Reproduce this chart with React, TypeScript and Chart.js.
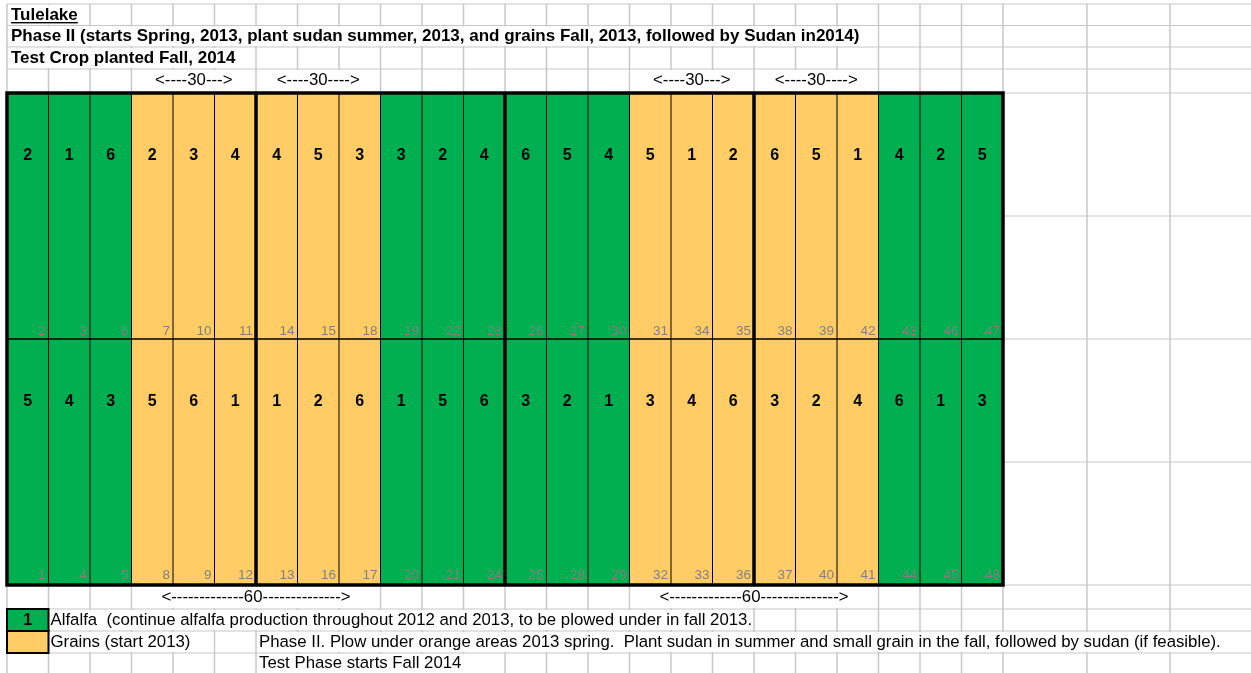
import React, { useEffect, useRef } from "react";
import { Chart, registerables } from "chart.js";

Chart.register(...registerables);

// ---- data ----
const columns = ["1", "2", "3", "4", "5", "6", "7", "8", "9", "10", "11", "12", "13", "14", "15", "16", "17", "18", "19", "20", "21", "22", "23", "24"];
const cropType = ["A", "A", "A", "G", "G", "G", "G", "G", "G", "A", "A", "A", "A", "A", "A", "G", "G", "G", "G", "G", "G", "A", "A", "A"];
const upperTreatment = [2, 1, 6, 2, 3, 4, 4, 5, 3, 3, 2, 4, 6, 5, 4, 5, 1, 2, 6, 5, 1, 4, 2, 5];
const lowerTreatment = [5, 4, 3, 5, 6, 1, 1, 2, 6, 1, 5, 6, 3, 2, 1, 3, 4, 6, 3, 2, 4, 6, 1, 3];
const upperPlot = [2, 3, 6, 7, 10, 11, 14, 15, 18, 19, 22, 23, 26, 27, 30, 31, 34, 35, 38, 39, 42, 43, 46, 47];
const lowerPlot = [1, 4, 5, 8, 9, 12, 13, 16, 17, 20, 21, 24, 25, 28, 29, 32, 33, 36, 37, 40, 41, 44, 45, 48];
const lowerBlock = [1, 1, 1, 1, 1, 1, 1, 1, 1, 1, 1, 1, 1, 1, 1, 1, 1, 1, 1, 1, 1, 1, 1, 1];
const upperBlock = [1, 1, 1, 1, 1, 1, 1, 1, 1, 1, 1, 1, 1, 1, 1, 1, 1, 1, 1, 1, 1, 1, 1, 1];
const groupBoundaries = [6, 12, 18];
const spanLabels30 = ["<----30--->", "<----30---->", "<----30--->", "<----30---->"];
const spanLabels60 = ["<-------------60-------------->", "<-------------60-------------->"];
const titleText = "Tulelake";
const phaseText = "Phase II (starts Spring, 2013, plant sudan summer, 2013, and grains Fall, 2013, followed by Sudan in2014)";
const testCropText = "Test Crop planted Fall, 2014";
const alfalfaText = "Alfalfa  (continue alfalfa production throughout 2012 and 2013, to be plowed under in fall 2013.";
const grainsText = "Grains (start 2013)";
const phaseNoteText = "Phase II. Plow under orange areas 2013 spring.  Plant sudan in summer and small grain in the fall, followed by sudan (if feasible).";
const testPhaseText = "Test Phase starts Fall 2014";

const GREEN = "#00B050";
const ORANGE = "#FFCC66";
const GRID = "#C8C8C8";
const FONT = "'Liberation Sans', Arial, sans-serif";

const W = 1251;
const H = 673;

const sheetPlugin = {
  id: "sheet",
  beforeDraw(chart: any) {
    const ctx = chart.ctx;
    const ys = chart.scales.y;
    const ca = chart.chartArea;
    const n = columns.length;
    const cw = (ca.right - ca.left) / n;
    const colEdges: number[] = [];
    for (let i = 0; i <= n; i++) colEdges.push(ca.left + i * cw);
    colEdges.push(1087, 1170);
    const top = ca.top;
    const bottom = ca.bottom;
    const rowEdges = [4, 25.5, 47, 69, top, ys.getPixelForValue(1.5), ys.getPixelForValue(1), ys.getPixelForValue(0.5), bottom, 609, 631, 653];

    ctx.save();
    ctx.fillStyle = "#fff";
    ctx.fillRect(0, 0, W, H);

    ctx.strokeStyle = GRID;
    ctx.lineWidth = 1.5;
    for (const x of colEdges) {
      ctx.beginPath();
      ctx.moveTo(x, 4);
      ctx.lineTo(x, H);
      ctx.stroke();
    }
    ctx.lineWidth = 1.2;
    for (const y of rowEdges) {
      ctx.beginPath();
      ctx.moveTo(colEdges[0], y);
      ctx.lineTo(W, y);
      ctx.stroke();
    }

    const blank = (x0: number, x1: number, y0: number, y1: number) => {
      ctx.fillStyle = "#fff";
      ctx.fillRect(x0 + 1, y0 + 1, x1 - x0 - 2, y1 - y0 - 2);
    };
    const E = (i: number) => colEdges[i];

    ctx.textBaseline = "alphabetic";
    const BOLD = `bold 17px ${FONT}`;
    const NORMAL = `16.8px ${FONT}`;

    // Title
    blank(E(0), E(2), 4, 25.5);
    ctx.font = BOLD;
    ctx.fillStyle = "#000";
    ctx.textAlign = "left";
    ctx.fillText(titleText, 11, 20);
    const tw = ctx.measureText(titleText).width;
    ctx.fillRect(11, 22, tw, 1.4);

    blank(E(0), E(21), 25.5, 47);
    ctx.fillStyle = "#000";
    ctx.fillText(phaseText, 11, 41);

    blank(E(0), E(6), 47, 69);
    ctx.fillStyle = "#000";
    ctx.fillText(testCropText, 11, 63);

    ctx.font = NORMAL;
    ctx.textAlign = "center";
    const spans30 = [[3, 6], [6, 9], [15, 18], [18, 21]];
    spans30.forEach((s, k) => {
      blank(E(s[0]), E(s[1]), 69, top);
      ctx.fillStyle = "#000";
      ctx.fillText(spanLabels30[k], (E(s[0]) + E(s[1])) / 2, 85);
    });
    const spans60 = [[3, 9], [15, 21]];
    spans60.forEach((s, k) => {
      blank(E(s[0]), E(s[1]), bottom, 609);
      ctx.fillStyle = "#000";
      ctx.fillText(spanLabels60[k], (E(s[0]) + E(s[1])) / 2, 602);
    });

    ctx.textAlign = "left";
    blank(E(1), E(18), 609, 631);
    ctx.fillStyle = "#000";
    ctx.fillText(alfalfaText, E(1) + 2, 625);

    blank(E(1), E(5), 631, 653);
    ctx.fillStyle = "#000";
    ctx.fillText(grainsText, E(1) + 2, 647);

    blank(E(6), W + 2, 631, 653);
    ctx.fillStyle = "#000";
    ctx.fillText(phaseNoteText, E(6) + 3, 647);

    blank(E(6), E(12), 653, H + 5);
    ctx.fillStyle = "#000";
    ctx.fillText(testPhaseText, E(6) + 3, 668);

    ctx.fillStyle = GREEN;
    ctx.fillRect(E(0), 609, cw, 22);
    ctx.fillStyle = ORANGE;
    ctx.fillRect(E(0), 631, cw, 22);
    ctx.strokeStyle = "#000";
    ctx.lineWidth = 2;
    ctx.strokeRect(E(0), 609, cw, 22);
    ctx.strokeRect(E(0), 631, cw, 22);
    ctx.font = `bold 16px ${FONT}`;
    ctx.textAlign = "center";
    ctx.fillStyle = "#000";
    ctx.fillText("1", E(0) + cw / 2, 625);
    ctx.restore();
  },
  afterDatasetsDraw(chart: any) {
    const ctx = chart.ctx;
    const xs = chart.scales.x;
    const ys = chart.scales.y;
    const ca = chart.chartArea;
    const n = columns.length;
    const cw = (ca.right - ca.left) / n;
    ctx.save();
    ctx.strokeStyle = "#000";
    ctx.lineWidth = 1;
    for (let i = 1; i < n; i++) {
      const x = ca.left + i * cw;
      ctx.beginPath();
      ctx.moveTo(x, ca.top);
      ctx.lineTo(x, ca.bottom);
      ctx.stroke();
    }
    ctx.lineWidth = 1.5;
    const ym = ys.getPixelForValue(1);
    ctx.beginPath();
    ctx.moveTo(ca.left, ym);
    ctx.lineTo(ca.right, ym);
    ctx.stroke();
    ctx.lineWidth = 3.5;
    for (const g of groupBoundaries) {
      const x = ca.left + g * cw;
      ctx.beginPath();
      ctx.moveTo(x, ca.top);
      ctx.lineTo(x, ca.bottom);
      ctx.stroke();
    }
    ctx.strokeRect(ca.left, ca.top, ca.right - ca.left, ca.bottom - ca.top);

    ctx.font = `bold 16px ${FONT}`;
    ctx.textAlign = "center";
    ctx.textBaseline = "middle";
    ctx.fillStyle = "#000";
    for (let i = 0; i < n; i++) {
      const x = xs.getPixelForValue(i);
      ctx.fillText(String(upperTreatment[i]), x, ys.getPixelForValue(1.75) + 1);
      ctx.fillText(String(lowerTreatment[i]), x, ys.getPixelForValue(0.75) + 1);
    }
    ctx.font = `13.5px ${FONT}`;
    ctx.textAlign = "right";
    ctx.textBaseline = "alphabetic";
    ctx.fillStyle = "#808080";
    for (let i = 0; i < n; i++) {
      const xr = ca.left + (i + 1) * cw - 3;
      ctx.fillText(String(upperPlot[i]), xr, ys.getPixelForValue(1) - 4);
      ctx.fillText(String(lowerPlot[i]), xr, ys.getPixelForValue(0) - 6);
    }
    ctx.restore();
  },
};

export default function App() {
  const ref = useRef<HTMLCanvasElement | null>(null);
  useEffect(() => {
    if (!ref.current) return;
    const colors = cropType.map((c) => (c === "A" ? GREEN : ORANGE));
    const chart = new Chart(ref.current, {
      type: "bar",
      data: {
        labels: columns,
        datasets: [
          { label: "lower", data: lowerBlock, backgroundColor: colors, borderWidth: 0, barPercentage: 1, categoryPercentage: 1 },
          { label: "upper", data: upperBlock, backgroundColor: colors, borderWidth: 0, barPercentage: 1, categoryPercentage: 1 },
        ],
      },
      options: {
        responsive: false,
        maintainAspectRatio: false,
        animation: false,
        events: [],
        layout: { padding: { left: 7, right: W - 1003, top: 93, bottom: H - 585 } },
        plugins: { legend: { display: false }, tooltip: { enabled: false }, title: { display: false } },
        scales: {
          x: { type: "category", stacked: true, display: false, offset: true, grid: { display: false } },
          y: { type: "linear", stacked: true, display: false, min: 0, max: 2 },
        },
      },
      plugins: [sheetPlugin],
    });
    return () => chart.destroy();
  }, []);
  return (
    <div style={{ position: "fixed", left: 0, top: 0, width: W, height: H, background: "#fff" }}>
      <canvas ref={ref} width={W} height={H} style={{ display: "block", width: W, height: H }} />
    </div>
  );
}
